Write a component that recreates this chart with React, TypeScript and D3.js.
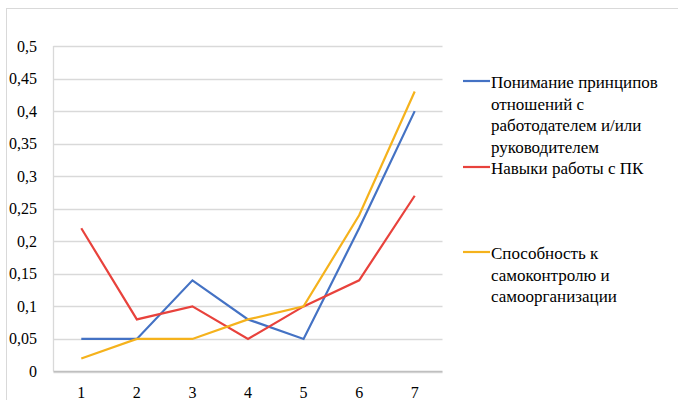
import { useEffect, useRef } from "react"
import * as d3 from "d3"

const categories = ["1", "2", "3", "4", "5", "6", "7"]
const understanding = [0.05, 0.05, 0.14, 0.08, 0.05, 0.22, 0.4]
const pcSkills = [0.22, 0.08, 0.1, 0.05, 0.1, 0.14, 0.27]
const selfControl = [0.02, 0.05, 0.05, 0.08, 0.1, 0.24, 0.43]
const yTicks = [0, 0.05, 0.1, 0.15, 0.2, 0.25, 0.3, 0.35, 0.4, 0.45, 0.5]

const seriesNames = [
  ["Понимание принципов", "отношений с", "работодателем и/или", "руководителем"],
  ["Навыки работы с ПК"],
  ["Способность к", "самоконтролю и", "самоорганизации"],
]
const seriesColors = ["#4472c4", "#e8423c", "#f5b21c"]

export default function App() {
  const svgRef = useRef<SVGSVGElement>(null)

  useEffect(() => {
    if (!svgRef.current) return
    document.body.style.margin = "0"

    const svg = d3.select(svgRef.current)
    svg.selectAll("*").remove()

    const font = '"Liberation Serif", "Times New Roman", "DejaVu Serif", serif'
    const left = 53.5
    const right = 442.5
    const top = 46
    const bottom = 371.5

    // outer chart border (top / left only visible)
    svg
      .append("rect")
      .attr("x", 6.5)
      .attr("y", 8.5)
      .attr("width", 700)
      .attr("height", 420)
      .attr("fill", "none")
      .attr("stroke", "#d9d9d9")
      .attr("stroke-width", 1)

    const x = d3.scaleBand().domain(categories).range([left, right])
    const y = d3.scaleLinear().domain([0, 0.5]).range([bottom, top])
    const cx = (c: string) => (x(c) || 0) + x.bandwidth() / 2

    // grid lines
    svg
      .append("g")
      .selectAll("line")
      .data(yTicks)
      .enter()
      .append("line")
      .attr("x1", left)
      .attr("x2", right)
      .attr("y1", (d) => Math.round(y(d)) + 0.5)
      .attr("y2", (d) => Math.round(y(d)) + 0.5)
      .attr("stroke", "#d9d9d9")
      .attr("stroke-width", 1.3)

    // axis lines
    svg
      .append("line")
      .attr("x1", left)
      .attr("x2", left)
      .attr("y1", top)
      .attr("y2", bottom)
      .attr("stroke", "#d9d9d9")
      .attr("stroke-width", 1.3)
    svg
      .append("line")
      .attr("x1", left)
      .attr("x2", right)
      .attr("y1", bottom)
      .attr("y2", bottom)
      .attr("stroke", "#bfbfbf")
      .attr("stroke-width", 1.3)

    // y tick labels
    svg
      .append("g")
      .selectAll("text")
      .data(yTicks)
      .enter()
      .append("text")
      .attr("x", 37)
      .attr("y", (d) => y(d) + 5.5)
      .attr("text-anchor", "end")
      .style("font-family", font)
      .style("font-size", "16px")
      .attr("fill", "#000")
      .text((d) => String(d).replace(".", ","))

    // x tick labels
    svg
      .append("g")
      .selectAll("text")
      .data(categories)
      .enter()
      .append("text")
      .attr("x", (d) => cx(d))
      .attr("y", 398)
      .attr("text-anchor", "middle")
      .style("font-family", font)
      .style("font-size", "16px")
      .attr("fill", "#000")
      .text((d) => d)

    // lines
    const allSeries = [understanding, pcSkills, selfControl]
    const line = d3
      .line<number>()
      .x((_, i) => cx(categories[i]))
      .y((d) => y(d))

    allSeries.forEach((values, i) => {
      svg
        .append("path")
        .datum(values)
        .attr("fill", "none")
        .attr("stroke", seriesColors[i])
        .attr("stroke-width", 2.2)
        .attr("stroke-linejoin", "miter")
        .attr("d", line)
    })

    // legend
    const legendY = [81, 167, 252]
    const lineH = 21.5
    seriesNames.forEach((lines, i) => {
      const g = svg.append("g")
      g.append("line")
        .attr("x1", 463)
        .attr("x2", 490)
        .attr("y1", legendY[i])
        .attr("y2", legendY[i])
        .attr("stroke", seriesColors[i])
        .attr("stroke-width", 2.2)
      lines.forEach((t, j) => {
        g.append("text")
          .attr("x", 491)
          .attr("y", legendY[i] + 7 + j * lineH)
          .style("font-family", font)
          .style("font-size", "17px")
          .attr("fill", "#000")
          .text(t)
      })
    })
  }, [])

  return (
    <div style={{ width: 678, height: 400 }}>
      <svg ref={svgRef} width={678} height={400} style={{ display: "block", background: "#fff" }}></svg>
    </div>
  )
}
